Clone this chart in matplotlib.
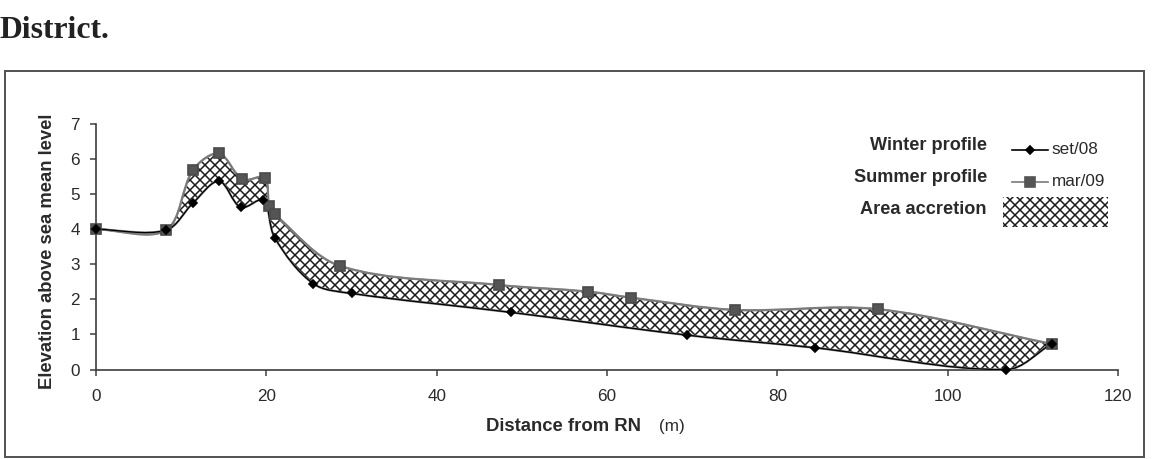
import numpy as np
import matplotlib
matplotlib.use("Agg")
import matplotlib.pyplot as plt
from matplotlib.path import Path
from matplotlib.patches import PathPatch, Rectangle
from matplotlib.lines import Line2D

# ---------------- data ----------------
winter_x = [0, 8.2, 11.4, 14.45, 17.0, 19.65, 21.0, 25.5, 30.0, 48.7, 69.4, 84.4, 106.9, 112.2]
winter_y = [4.0, 3.97, 4.75, 5.37, 4.62, 4.83, 3.75, 2.45, 2.17, 1.63, 0.98, 0.62, 0.0, 0.73]

summer_x = [0, 8.2, 11.4, 14.45, 17.2, 19.8, 20.35, 21.0, 28.7, 47.3, 57.8, 62.8, 75.0, 91.8, 112.2]
summer_y = [4.0, 3.97, 5.69, 6.16, 5.42, 5.47, 4.66, 4.42, 2.95, 2.41, 2.22, 2.05, 1.70, 1.72, 0.73]

x_ticks = [0, 20, 40, 60, 80, 100, 120]
y_ticks = [0, 1, 2, 3, 4, 5, 6, 7]
x_lim = (0, 120)
y_lim = (0, 7)

series_labels = ["set/08", "mar/09"]
legend_titles = ["Winter profile", "Summer profile", "Area accretion"]
x_label = "Distance from RN"
x_unit = "(m)"
y_label = "Elevation above sea mean level"
caption = "District."

# ---------------- figure ----------------
DPI = 120
W, H = 1152, 459
fig = plt.figure(figsize=(W / DPI, H / DPI), dpi=DPI)
fig.patch.set_facecolor("white")
plt.rcParams["hatch.linewidth"] = 0.9

SANS = ["Liberation Sans", "DejaVu Sans"]
TXT = "#2a2a2a"
HATCH = "xxxx"

ax_l, ax_b, ax_w, ax_h = 96 / W, (H - 369.5) / H, (1118 - 96) / W, (369.5 - 124) / H
ax = fig.add_axes([ax_l, ax_b, ax_w, ax_h])
ax.set_xlim(*x_lim)
ax.set_ylim(*y_lim)

# aspect factor so that smoothing is done in screen-like space
yscale = (ax_h * H / (y_lim[1] - y_lim[0])) / (ax_w * W / (x_lim[1] - x_lim[0]))


def smooth_vertices(xs, ys):
    p = np.column_stack([np.asarray(xs, float), np.asarray(ys, float) * yscale])
    n = len(p)
    d = np.hypot(*(p[1:] - p[:-1]).T)
    verts = [p[0]]
    for i in range(n - 1):
        p1, p2 = p[i], p[i + 1]
        if i > 0:
            t1 = (p2 - p[i - 1]) * (d[i] / (d[i - 1] + d[i])) / 3.0
        else:
            t1 = (p2 - p1) / 3.0
        if i + 2 < n:
            t2 = (p[i + 2] - p1) * (d[i] / (d[i] + d[i + 1])) / 3.0
        else:
            t2 = (p2 - p1) / 3.0
        verts += [p1 + t1, p2 - t2, p2]
    v = np.array(verts)
    v[:, 1] /= yscale
    return v


def curve_path(xs, ys):
    v = smooth_vertices(xs, ys)
    codes = [Path.MOVETO] + [Path.CURVE4] * (len(v) - 1)
    return Path(v, codes)


# accretion band (summer forward, winter backward)
sv = smooth_vertices(summer_x, summer_y)
wv = smooth_vertices(winter_x, winter_y)[::-1]
band_verts = np.vstack([sv, wv, sv[:1]])
band_codes = ([Path.MOVETO] + [Path.CURVE4] * (len(sv) - 1)
              + [Path.LINETO] + [Path.CURVE4] * (len(wv) - 1) + [Path.CLOSEPOLY])
band = Path(band_verts, band_codes)
ax.add_patch(PathPatch(band, facecolor="white", edgecolor="#1a1a1a", linewidth=0,
                       hatch=HATCH, zorder=2))
ax.add_patch(PathPatch(band, facecolor="none", edgecolor="#8c8c8c", linewidth=1.4,
                       zorder=3))

# profile curves
ax.add_patch(PathPatch(curve_path(summer_x, summer_y), facecolor="none",
                       edgecolor="#7a7a7a", linewidth=1.0, zorder=4))
ax.add_patch(PathPatch(curve_path(winter_x, winter_y), facecolor="none",
                       edgecolor="black", linewidth=0.8, zorder=4))
ax.plot(winter_x, winter_y, linestyle="none", marker="D", markersize=3.8,
        color="black", zorder=6, clip_on=False)
ax.plot(summer_x, summer_y, linestyle="none", marker="s", markersize=6.0,
        color="#555555", markeredgecolor="#4a4a4a", zorder=5, clip_on=False)

# axes styling
for s in ["top", "right"]:
    ax.spines[s].set_visible(False)
for s in ["left", "bottom"]:
    ax.spines[s].set_color("#3c3c3c")
    ax.spines[s].set_linewidth(1.0)
ax.set_xticks(x_ticks)
ax.set_yticks(y_ticks)
ax.tick_params(axis="both", direction="out", length=3.6, width=0.9, color="#3c3c3c",
               labelcolor=TXT, labelsize=10.3)
ax.tick_params(axis="x", pad=8)
ax.tick_params(axis="y", pad=6)
for lab in ax.get_xticklabels() + ax.get_yticklabels():
    lab.set_family(SANS)

# axis labels
fig.text(47.5 / W, (H - 251) / H, y_label, rotation=90, ha="center", va="center",
         fontsize=11.1, fontweight="bold", family=SANS, color=TXT)
fig.text(564 / W, (H - 426.7) / H, x_label, ha="center", va="center",
         fontsize=11.1, fontweight="bold", family=SANS, color=TXT)
fig.text(672 / W, (H - 426.7) / H, x_unit, ha="center", va="center",
         fontsize=10.3, family=SANS, color=TXT)

# custom legend
ys_leg = [145, 177.3, 209]
for t, yy in zip(legend_titles, ys_leg):
    fig.text(987 / W, (H - yy) / H, t, ha="right", va="center", fontsize=10.9,
             fontweight="bold", family=SANS, color=TXT)
leg_specs = [("black", "D", 3.8, "black", 150), ("#7a7a7a", "s", 6.0, "#555555", 181.7)]
for (lc, mk, ms, mc, yy), lab in zip(leg_specs, series_labels):
    yf = (H - yy) / H
    fig.add_artist(Line2D([1011.7 / W, 1048.3 / W], [yf, yf], color=lc, linewidth=1.0,
                          transform=fig.transFigure))
    fig.add_artist(Line2D([1030 / W], [yf], marker=mk, markersize=ms, color=mc,
                          linestyle="none", transform=fig.transFigure))
    fig.text(1051.7 / W, yf, lab, ha="left", va="center", fontsize=10.3,
             family=SANS, color=TXT)
fig.add_artist(Rectangle((1003 / W, (H - 227.3) / H), 105 / W, 30.6 / H,
                         facecolor="white", edgecolor="#1a1a1a", linewidth=0,
                         hatch=HATCH, transform=fig.transFigure))

# chart frame
fig.add_artist(Rectangle((4.7 / W, (H - 457) / H), (1144 - 4.7) / W, (457 - 71) / H,
                         facecolor="none", edgecolor="#555555", linewidth=1.2,
                         transform=fig.transFigure))

# caption
fig.text(0.0, (H - 38) / H, caption, ha="left", va="baseline", fontsize=19,
         fontweight="bold", family=["Liberation Serif", "DejaVu Serif"], color="#222222")

fig.savefig("out.png", dpi=DPI)
